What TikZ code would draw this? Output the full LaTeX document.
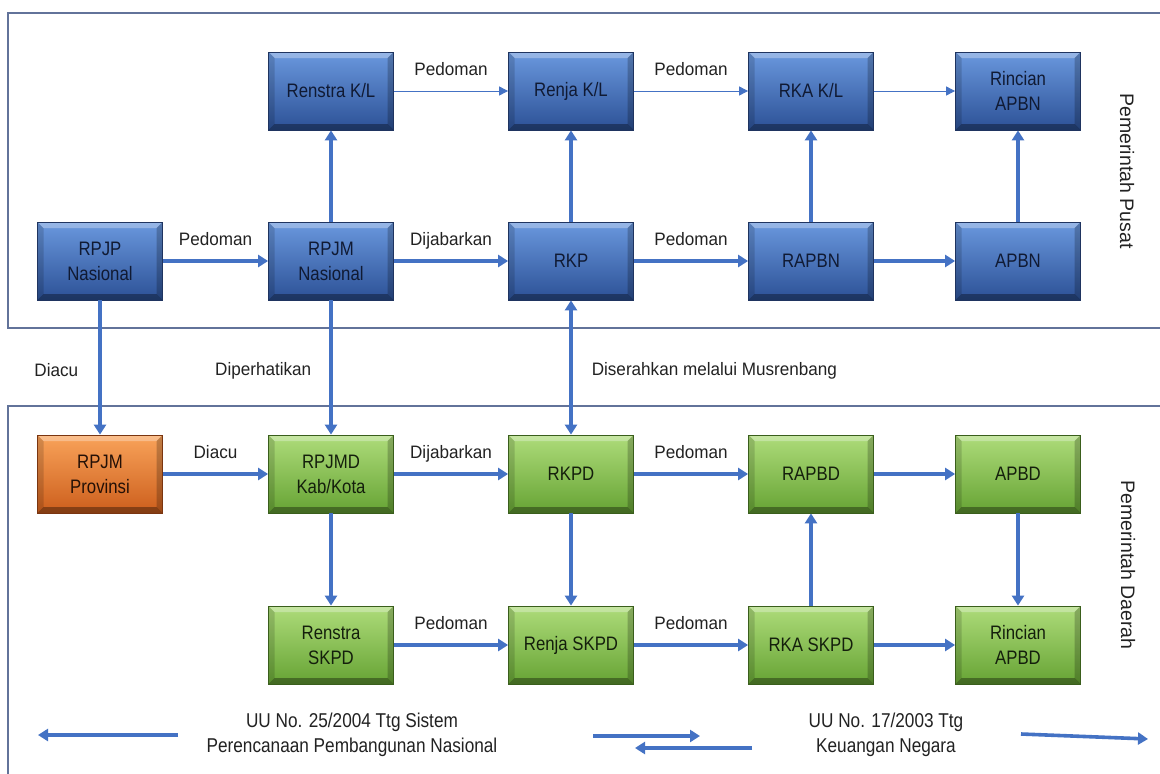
\documentclass[tikz,border=0pt]{standalone}
\usepackage{fontspec}
\setmainfont{Liberation Sans}
\newfontfamily\boxff{Liberation Sans}[FakeStretch=0.86]
\newfontfamily\lblff{Liberation Sans}[FakeStretch=0.95]
\newfontfamily\botff{Liberation Sans}[FakeStretch=0.86]
\usetikzlibrary{arrows.meta}
\definecolor{arr}{HTML}{4472C4}
\definecolor{frm}{HTML}{62739A}
\definecolor{bT}{HTML}{6A98DE}
\definecolor{bB}{HTML}{2C5196}
\definecolor{bD}{HTML}{1F3460}
\definecolor{bTx}{HTML}{101A33}
\definecolor{gT}{HTML}{AEDC7A}
\definecolor{gB}{HTML}{66A334}
\definecolor{gD}{HTML}{3A5E1C}
\definecolor{gTx}{HTML}{141F0C}
\definecolor{oT}{HTML}{F9A35A}
\definecolor{oB}{HTML}{CC5E1C}
\definecolor{oD}{HTML}{7A3510}
\definecolor{oTx}{HTML}{241006}
\definecolor{lbl}{HTML}{222222}
\begin{document}
\begin{tikzpicture}[x=1pt,y=-1pt,
  bev/.style={minimum width=125pt,minimum height=78pt,inner sep=0pt,align=center,
    line width=0.8pt,
    font=\boxff\fontsize{19.5}{25}\selectfont,
    path picture={
      \fill[white,opacity=.30] (path picture bounding box.north west) -- (path picture bounding box.north east)
        -- ([xshift=-6pt,yshift=-6pt]path picture bounding box.north east) -- ([xshift=6pt,yshift=-6pt]path picture bounding box.north west) -- cycle;
      \fill[black,opacity=.35] (path picture bounding box.south west) -- (path picture bounding box.south east)
        -- ([xshift=-6pt,yshift=6pt]path picture bounding box.south east) -- ([xshift=6pt,yshift=6pt]path picture bounding box.south west) -- cycle;
      \fill[black,opacity=.15] (path picture bounding box.south west) -- (path picture bounding box.north west)
        -- ([xshift=6pt,yshift=-6pt]path picture bounding box.north west) -- ([xshift=6pt,yshift=6pt]path picture bounding box.south west) -- cycle;
      \fill[black,opacity=.22] (path picture bounding box.south east) -- (path picture bounding box.north east)
        -- ([xshift=-6pt,yshift=-6pt]path picture bounding box.north east) -- ([xshift=-6pt,yshift=6pt]path picture bounding box.south east) -- cycle;
    }},
  bluebox/.style={bev,top color=bT,bottom color=bB,draw=bD,text=bTx},
  greenbox/.style={bev,top color=gT,bottom color=gB,draw=gD,text=gTx},
  orangebox/.style={bev,top color=oT,bottom color=oB,draw=oD,text=oTx},
  thick arrow/.style={draw=arr,line width=3.6pt,-{Triangle[length=10pt,width=12pt]}},
  thin arrow/.style={draw=arr,line width=0.9pt,-{Triangle[length=9pt,width=9pt]}},
  both arrow/.style={draw=arr,line width=3.6pt,{Triangle[length=10pt,width=12pt]}-{Triangle[length=10pt,width=12pt]}},
  lab/.style={font=\lblff\fontsize{18}{21}\selectfont,text=lbl,inner sep=0pt},
  toplab/.style={lab,midway,anchor=base,yshift=16pt},
  frame/.style={draw=frm,line width=1.6pt},
  side/.style={font=\fontsize{19.5}{22}\selectfont,text=lbl,rotate=-90,inner sep=0pt},
  bot/.style={font=\botff\fontsize{20}{25}\selectfont,text=lbl,align=center,inner sep=0pt}
]
\useasboundingbox (0,0) rectangle (1160,774);
\fill[white] (0,0) rectangle (1160,774);

% frames
\draw[frame] (1162,13) -- (8,13) -- (8,328) -- (1162,328);
\draw[frame] (1162,406) -- (8,406) -- (8,776);

% row 1
\node[bluebox] (renstrakl) at (331,91) {Renstra K/L};
\node[bluebox] (renjakl) at (571,91) {Renja K/L};
\node[bluebox] (rkakl) at (811,91) {RKA K/L};
\node[bluebox] (rincianapbn) at (1018,91) {Rincian\\APBN};
% row 2
\node[bluebox] (rpjp) at (100,261) {RPJP\\Nasional};
\node[bluebox] (rpjm) at (331,261) {RPJM\\Nasional};
\node[bluebox] (rkp) at (571,261) {RKP};
\node[bluebox] (rapbn) at (811,261) {RAPBN};
\node[bluebox] (apbn) at (1018,261) {APBN};
% row 3
\node[orangebox] (rpjmprov) at (100,474) {RPJM\\Provinsi};
\node[greenbox] (rpjmd) at (331,474) {RPJMD\\Kab/Kota};
\node[greenbox] (rkpd) at (571,474) {RKPD};
\node[greenbox] (rapbd) at (811,474) {RAPBD};
\node[greenbox] (apbd) at (1018,474) {APBD};
% row 4
\node[greenbox] (renstraskpd) at (331,645) {Renstra\\SKPD};
\node[greenbox] (renjaskpd) at (571,645) {Renja SKPD};
\node[greenbox] (rkaskpd) at (811,645) {RKA SKPD};
\node[greenbox] (rincianapbd) at (1018,645) {Rincian\\APBD};

% row 1 connectors (thin)
\draw[thin arrow] (renstrakl) -- node[toplab] {Pedoman} (renjakl);
\draw[thin arrow] (renjakl) -- node[toplab] {Pedoman} (rkakl);
\draw[thin arrow] (rkakl) -- (rincianapbn);
% row 2 connectors
\draw[thick arrow] (rpjp) -- node[toplab] {Pedoman} (rpjm);
\draw[thick arrow] (rpjm) -- node[toplab] {Dijabarkan} (rkp);
\draw[thick arrow] (rkp) -- node[toplab] {Pedoman} (rapbn);
\draw[thick arrow] (rapbn) -- (apbn);
% vertical top
\draw[thick arrow] (rpjm) -- (renstrakl);
\draw[thick arrow] (rkp) -- (renjakl);
\draw[thick arrow] (rapbn) -- (rkakl);
\draw[thick arrow] (apbn) -- (rincianapbn);
% between levels
\draw[thick arrow] (rpjp) -- node[lab,midway,left=20pt,yshift=-3pt] {Diacu} (rpjmprov);
\draw[thick arrow] (rpjm) -- node[lab,midway,left=18pt,yshift=-3pt] {Diperhatikan} (rpjmd);
\draw[both arrow] (rkp) -- node[lab,midway,right=19pt,yshift=-3pt] {Diserahkan melalui Musrenbang} (rkpd);
% row 3
\draw[thick arrow] (rpjmprov) -- node[toplab] {Diacu} (rpjmd);
\draw[thick arrow] (rpjmd) -- node[toplab] {Dijabarkan} (rkpd);
\draw[thick arrow] (rkpd) -- node[toplab] {Pedoman} (rapbd);
\draw[thick arrow] (rapbd) -- (apbd);
% vertical bottom
\draw[thick arrow] (rpjmd) -- (renstraskpd);
\draw[thick arrow] (rkpd) -- (renjaskpd);
\draw[thick arrow] (rkaskpd) -- (rapbd);
\draw[thick arrow] (apbd) -- (rincianapbd);
% row 4
\draw[thick arrow] (renstraskpd) -- node[toplab] {Pedoman} (renjaskpd);
\draw[thick arrow] (renjaskpd) -- node[toplab] {Pedoman} (rkaskpd);
\draw[thick arrow] (rkaskpd) -- (rincianapbd);

% side labels
\node[side] (pusat) at (1127,171) {Pemerintah Pusat};
\node[side] (daerah) at (1128,565) {Pemerintah Daerah};

% bottom legend
\node[bot] (uu25) at (352,735) {UU No. 25/2004 Ttg Sistem\\Perencanaan Pembangunan Nasional};
\node[bot] (uu17) at (886,735) {UU No. 17/2003 Ttg\\Keuangan Negara};
\coordinate (a1s) at (178,735);
\coordinate (a1e) at (38,735);
\coordinate (a2s) at (593,736);
\coordinate (a2e) at (700,736);
\coordinate (a3s) at (752,748);
\coordinate (a3e) at (635,748);
\coordinate (a4s) at (1021,734);
\coordinate (a4e) at (1148,739);
\draw[thick arrow] (a1s) -- (a1e);
\draw[thick arrow] (a2s) -- (a2e);
\draw[thick arrow] (a3s) -- (a3e);
\draw[thick arrow] (a4s) -- (a4e);
\end{tikzpicture}
\end{document}
